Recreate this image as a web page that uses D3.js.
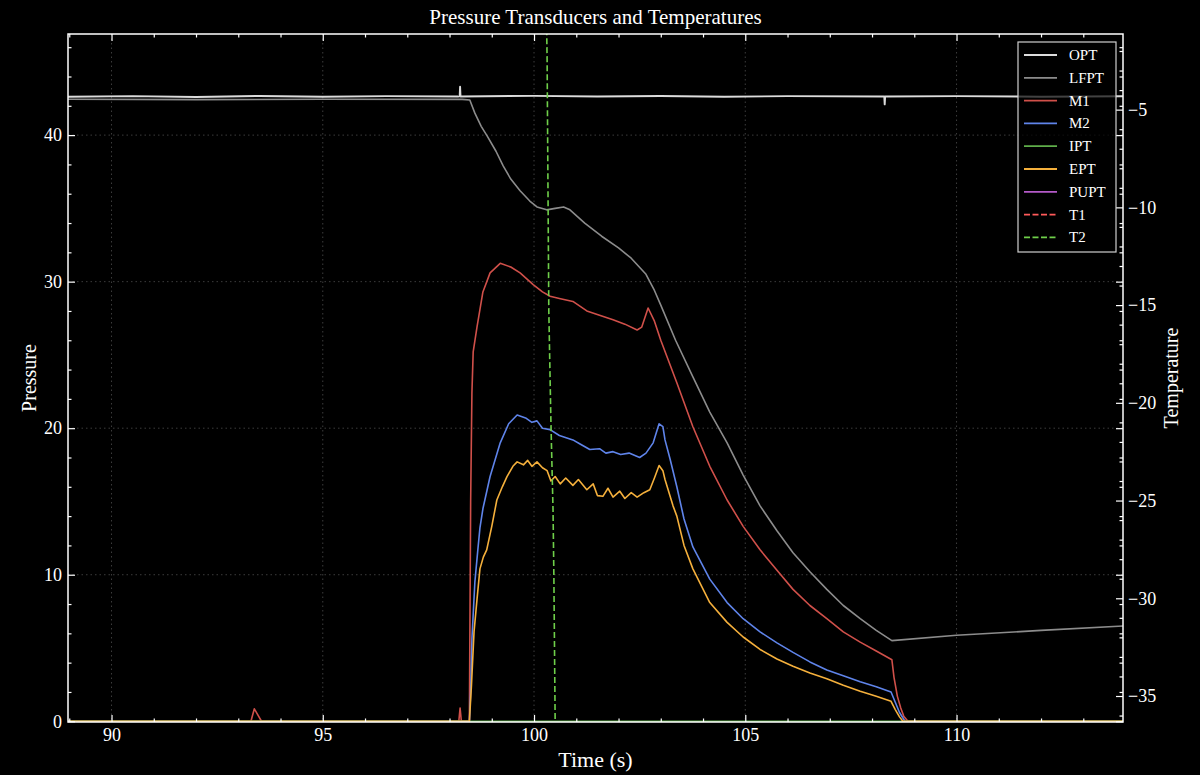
<!DOCTYPE html>
<html>
<head>
<meta charset="utf-8">
<title>Pressure Transducers and Temperatures</title>
<script src="https://cdn.jsdelivr.net/npm/d3@7"></script>
<style>
  body { margin: 0; background: #000; }
  svg { display: block; font-family: "Liberation Serif", "DejaVu Serif", serif; }
</style>
</head>
<body>
<div id="chart"></div>
<script>
// series as [time (s), value]
const optData = [[88.97,42.62],[90.5,42.66],[92,42.6],[93.5,42.67],[95,42.62],[96.5,42.66],[98.2,42.63],[98.24,42.64],[98.25,43.3],[98.26,42.64],
  [100,42.68],[101.5,42.63],[103,42.67],[104.5,42.62],[106,42.66],[108.29,42.64],[108.3,42.1],[108.31,42.64],[110,42.66],[112,42.62],[113.94,42.65]];
const lfptData = [[88.97,42.45],[92,42.42],[95,42.45],[98.3,42.44],[98.48,42.4],[98.6,41.5],[98.75,40.6],[98.9,39.9],[99.1,38.9],[99.27,37.9],
  [99.45,37.0],[99.67,36.2],[99.9,35.5],[100.07,35.1],[100.3,34.9],[100.5,35.0],[100.7,35.1],[100.85,34.9],[101.2,34.0],[101.6,33.1],
  [102.0,32.3],[102.3,31.6],[102.65,30.5],[102.85,29.4],[103.0,28.4],[103.35,26.0],[103.76,23.5],[104.16,21.1],[104.57,19.0],[104.95,16.8],
  [105.35,14.7],[105.75,13.0],[106.13,11.5],[106.53,10.2],[106.93,9.0],[107.32,7.9],[107.72,7.0],[108.1,6.2],[108.47,5.5],[110,5.87],[112,6.2],[113.94,6.5]];
const m1Data = [[88.97,0],[93.3,0],[93.38,0.85],[93.55,0],[98.22,0],[98.25,0.9],[98.28,0],[98.47,0],[98.5,15],[98.53,22.4],[98.56,25.2],[98.65,26.9],
  [98.79,29.3],[98.96,30.6],[99.2,31.25],[99.45,31.0],[99.67,30.6],[99.98,29.8],[100.2,29.3],[100.38,29.0],[100.6,28.85],[100.92,28.65],
  [101.25,28.0],[101.55,27.7],[101.87,27.4],[102.15,27.1],[102.44,26.7],[102.55,26.9],[102.7,28.2],[102.85,27.3],[103.0,26.0],[103.17,24.7],
  [103.38,23.1],[103.76,20.1],[104.16,17.4],[104.57,15.1],[104.95,13.3],[105.35,11.7],[105.75,10.3],[106.13,9.0],[106.53,7.9],[106.93,7.0],
  [107.32,6.1],[107.72,5.4],[108.1,4.8],[108.47,4.2],[108.52,3.0],[108.6,1.7],[108.68,0.9],[108.75,0.35],[108.85,0],[113.94,0]];
const m2Data = [[88.97,0],[98.47,0],[98.5,2.0],[98.53,5.6],[98.6,9.5],[98.67,11.7],[98.72,13.2],[98.79,14.5],[98.96,16.7],[99.2,19.0],[99.4,20.3],
  [99.6,20.9],[99.8,20.7],[99.95,20.4],[100.07,20.5],[100.2,20.0],[100.38,19.9],[100.6,19.5],[100.92,19.2],[101.1,18.9],[101.32,18.55],
  [101.55,18.6],[101.7,18.3],[101.87,18.4],[102.05,18.2],[102.25,18.3],[102.5,18.0],[102.65,18.3],[102.82,19.0],[102.96,20.3],[103.05,20.1],
  [103.1,19.2],[103.22,17.9],[103.38,16.0],[103.55,13.8],[103.76,11.9],[104.16,9.7],[104.57,8.1],[104.95,7.0],[105.35,6.1],[105.75,5.35],
  [106.13,4.7],[106.53,4.05],[106.93,3.5],[107.32,3.1],[107.72,2.7],[108.1,2.35],[108.45,2.0],[108.55,1.3],[108.65,0.6],[108.78,0],[113.94,0]];
const iptData = [[88.97,0],[113.94,0]];
const eptData = [[88.97,0],[98.47,0],[98.52,2.5],[98.58,6.1],[98.65,8.3],[98.72,10.4],[98.8,11.2],[98.88,11.7],[99.0,13.3],[99.12,15.1],
  [99.25,16.0],[99.36,16.7],[99.5,17.4],[99.6,17.7],[99.75,17.5],[99.85,17.8],[99.95,17.4],[100.07,17.7],[100.2,17.3],[100.31,17.1],
  [100.4,16.4],[100.5,16.7],[100.62,16.2],[100.75,16.6],[100.92,16.1],[101.05,16.5],[101.25,15.8],[101.4,16.2],[101.5,15.4],[101.63,15.35],
  [101.75,15.9],[101.87,15.3],[102.03,15.7],[102.15,15.2],[102.3,15.6],[102.44,15.3],[102.6,15.6],[102.74,15.8],[102.85,16.6],[102.96,17.45],
  [103.05,17.1],[103.1,16.5],[103.29,14.7],[103.38,14.0],[103.55,12.0],[103.76,10.4],[104.16,8.1],[104.57,6.75],[104.95,5.75],[105.35,4.9],
  [105.75,4.25],[106.13,3.75],[106.53,3.3],[106.93,2.9],[107.32,2.45],[107.72,2.05],[108.1,1.7],[108.45,1.36],[108.55,0.8],[108.65,0.3],
  [108.73,0],[113.94,0]];
const puptData = [];   // not visible inside the plotted window
const t1Data = [];     // not visible inside the plotted window
const t2Data = [[100.29,0.5],[100.31,-2.5],[100.35,-15.3],[100.40,-21.0],[100.45,-25.5],[100.47,-28.9],[100.50,-36.3],[100.51,-37.5]];

const seriesNames = ["OPT","LFPT","M1","M2","IPT","EPT","PUPT","T1","T2"];
const xTicks = [90,95,100,105,110];
const pTicks = [0,10,20,30,40];
const tTicks = [-35,-30,-25,-20,-15,-10,-5];
const xRange = [88.97, 113.94];
const pRange = [-0.05, 46.9];
const tRange = [-36.33, -1.13];

const width = 1200, height = 775;
const margin = {left: 68, right: 77, top: 34, bottom: 53};
const w = width - margin.left - margin.right;
const h = height - margin.top - margin.bottom;

const colors = ["#dcdcdc","#8c8c8c","#d0504a","#5f84ea","#5fae4a","#f5b03c","#b45ac8","#ff5a5a","#6fcf4a"];
const allData = [optData, lfptData, m1Data, m2Data, iptData, eptData, puptData, t1Data, t2Data];
const series = seriesNames.map(function(n, i) {
  return {name: n, data: allData[i], color: colors[i],
          dashed: (n == "T1" || n == "T2"), temp: (n == "T1" || n == "T2")};
});

var xs = d3.scaleLinear().domain(xRange).range([0, w]);
var ys = d3.scaleLinear().domain(pRange).range([h, 0]);
var yt = d3.scaleLinear().domain(tRange).range([h, 0]);

var svg = d3.select("#chart").append("svg")
  .attr("width", width).attr("height", height)
  .style("background", "#000");

var g = svg.append("g").attr("transform", "translate(" + margin.left + "," + margin.top + ")");

g.append("clipPath").attr("id", "clip")
  .append("rect").attr("width", w).attr("height", h);

// grid
g.selectAll(".gx").data(xTicks).enter().append("line")
  .attr("x1", function(d) {return xs(d)}).attr("x2", function(d) {return xs(d)})
  .attr("y1", 0).attr("y2", h)
  .attr("stroke", "#3c3c3c").attr("stroke-width", 1).attr("stroke-dasharray", "1.5,3");
g.selectAll(".gy").data(pTicks.filter(function(d) {return d > 0})).enter().append("line")
  .attr("x1", 0).attr("x2", w)
  .attr("y1", function(d) {return ys(d)}).attr("y2", function(d) {return ys(d)})
  .attr("stroke", "#3c3c3c").attr("stroke-width", 1).attr("stroke-dasharray", "1.5,3");

// lines
var plot = g.append("g").attr("clip-path", "url(#clip)");
series.forEach(function(s) {
  if (s.data.length == 0) return;
  var yscale = s.temp ? yt : ys;
  var line = d3.line().x(function(d) {return xs(d[0])}).y(function(d) {return yscale(d[1])});
  plot.append("path")
    .datum(s.data)
    .attr("fill", "none")
    .attr("stroke", s.color)
    .attr("stroke-width", s.name == "OPT" ? 1.9 : 1.6)
    .attr("stroke-dasharray", s.dashed ? "6,3" : null)
    .attr("stroke-linejoin", "round")
    .attr("d", line);
});

// ticks helpers
function minorTicks(lo, hi, step, skip) {
  var out = [];
  for (var v = Math.ceil(lo / step) * step; v <= hi + 1e-9; v += step) {
    v = Math.round(v * 1000) / 1000;
    if (v % skip != 0) out.push(v);
  }
  return out;
}
function styleAxis(sel, size) {
  sel.select(".domain").remove();
  sel.selectAll("line").attr("stroke", "#fff").attr("stroke-width", 1.2);
  sel.selectAll("text").attr("fill", "#fff").style("font-size", size + "px")
    .style("font-family", '"Liberation Serif", serif');
}

var xMinor = minorTicks(xRange[0], xRange[1], 1, 5);
var pMinor = minorTicks(pRange[0], pRange[1], 2, 10);
var tMinor = minorTicks(tRange[0], tRange[1], 1, 5);

// bottom
g.append("g").attr("transform", "translate(0," + h + ")")
  .call(d3.axisBottom(xs).tickValues(xMinor).tickSize(-3.5).tickFormat("")).call(styleAxis, 18);
g.append("g").attr("transform", "translate(0," + h + ")")
  .call(d3.axisBottom(xs).tickValues(xTicks).tickSize(-7).tickPadding(6)).call(styleAxis, 18);
// top mirror
g.append("g").call(d3.axisTop(xs).tickValues(xMinor).tickSize(-3.5).tickFormat("")).call(styleAxis, 18);
g.append("g").call(d3.axisTop(xs).tickValues(xTicks).tickSize(-7).tickFormat("")).call(styleAxis, 18);
// left pressure
g.append("g").call(d3.axisLeft(ys).tickValues(pMinor).tickSize(-3.5).tickFormat("")).call(styleAxis, 18);
g.append("g").call(d3.axisLeft(ys).tickValues(pTicks).tickSize(-7).tickPadding(6)).call(styleAxis, 18);
// right: pressure mirror + temperature
g.append("g").attr("transform", "translate(" + w + ",0)")
  .call(d3.axisRight(ys).tickValues(pMinor).tickSize(-3.5).tickFormat("")).call(styleAxis, 18);
g.append("g").attr("transform", "translate(" + w + ",0)")
  .call(d3.axisRight(ys).tickValues(pTicks).tickSize(-7).tickFormat("")).call(styleAxis, 18);
g.append("g").attr("transform", "translate(" + w + ",0)")
  .call(d3.axisRight(yt).tickValues(tMinor).tickSize(-3.5).tickFormat("")).call(styleAxis, 18);
g.append("g").attr("transform", "translate(" + w + ",0)")
  .call(d3.axisRight(yt).tickValues(tTicks).tickSize(-7).tickPadding(5)).call(styleAxis, 18);

// spines
g.append("rect").attr("width", w).attr("height", h)
  .attr("fill", "none").attr("stroke", "#fff").attr("stroke-width", 1.5);

// labels
svg.append("text").attr("x", margin.left + w / 2).attr("y", 24)
  .attr("text-anchor", "middle").attr("fill", "#fff").style("font-size", "21px")
  .text("Pressure Transducers and Temperatures");
svg.append("text").attr("x", margin.left + w / 2).attr("y", 767)
  .attr("text-anchor", "middle").attr("fill", "#fff").style("font-size", "22px")
  .text("Time (s)");
svg.append("text").attr("transform", "translate(36," + (margin.top + h / 2) + ") rotate(-90)")
  .attr("text-anchor", "middle").attr("fill", "#fff").style("font-size", "20px")
  .text("Pressure");
svg.append("text").attr("transform", "translate(1178," + (margin.top + h / 2) + ") rotate(-90)")
  .attr("text-anchor", "middle").attr("fill", "#fff").style("font-size", "20px")
  .text("Temperature");

// legend
var leg = svg.append("g").attr("transform", "translate(1018,42)");
leg.append("rect").attr("width", 98).attr("height", 210)
  .attr("fill", "#000").attr("fill-opacity", 0.7)
  .attr("stroke", "#cfcfcf").attr("stroke-width", 1.2);
var rows = leg.selectAll(".row").data(series).enter().append("g")
  .attr("transform", function(d, i) {return "translate(0," + (13 + i * 22.8) + ")"});
rows.append("line").attr("x1", 6).attr("x2", 39).attr("y1", 0).attr("y2", 0)
  .attr("stroke", function(d) {return d.color}).attr("stroke-width", 1.8)
  .attr("stroke-dasharray", function(d) {return d.dashed ? "6,2.5" : null});
rows.append("text").attr("x", 51).attr("y", 5).attr("fill", "#fff")
  .style("font-size", "15px").text(function(d) {return d.name});
</script>
</body>
</html>
